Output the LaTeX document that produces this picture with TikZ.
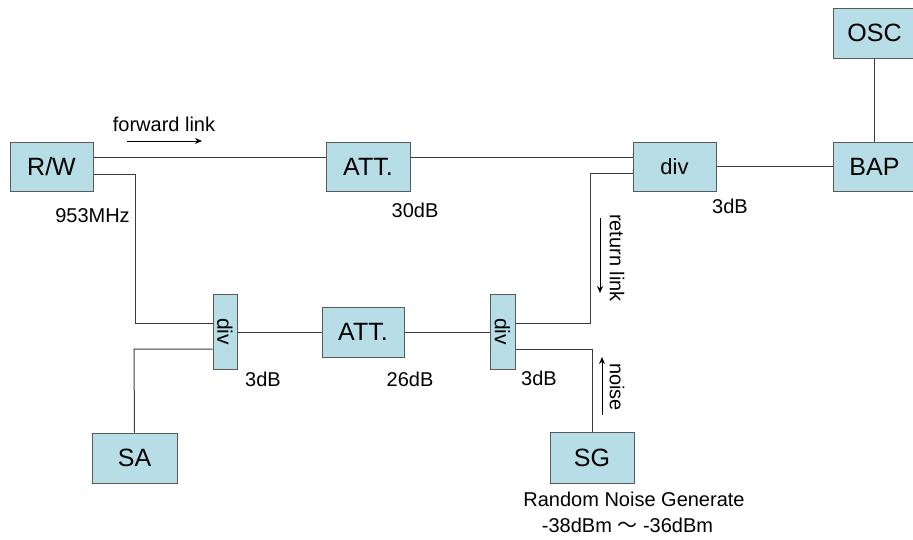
\documentclass[tikz,border=0pt]{standalone}
\usepackage{fontspec}
\setmainfont{Liberation Sans}
\newfontfamily\cjk{Noto Sans CJK JP}
\usetikzlibrary{arrows.meta}
\definecolor{boxfill}{RGB}{183,221,230}
\definecolor{boxdraw}{RGB}{90,90,90}
\definecolor{wire}{RGB}{60,60,60}
\tikzset{
  blk/.style={draw=boxdraw, fill=boxfill, line width=1pt, inner sep=0pt, font=\fontsize{25}{28}\selectfont},
  vdiv/.style={blk, minimum width=24pt, minimum height=75pt, font=\fontsize{21}{24}\selectfont},
  lbl/.style={font=\fontsize{20}{23}\selectfont, inner sep=0pt},
  wire/.style={draw=wire, line width=1pt},
  flow/.style={draw=black, line width=1pt, -{Stealth[length=7pt,width=6pt]}}
}
\begin{document}
\begin{tikzpicture}[x=1pt,y=-1pt]
\useasboundingbox (0,0) rectangle (913,539);
% top row
\node[blk, minimum width=83pt, minimum height=49pt] (rw) at (51.5,166.5) {R/W};
\node[blk, minimum width=84pt, minimum height=49pt] (att1) at (368,166.5) {ATT.};
\node[blk, minimum width=83pt, minimum height=49pt, font=\fontsize{22}{25}\selectfont] (div1) at (674.5,166.5) {div};
\node[blk, minimum width=83pt, minimum height=49pt] (bap) at (874.5,166.5) {BAP};
\node[blk, minimum width=83pt, minimum height=50pt] (osc) at (874.5,33) {OSC};
% bottom row
\node[vdiv] (div2) at (225,331.5) {\rotatebox{-90}{div}};
\node[blk, minimum width=82pt, minimum height=50pt] (att2) at (363,332) {ATT.};
\node[vdiv, minimum width=25pt] (div3) at (502.5,331.5) {\rotatebox{-90}{div}};
\node[blk, minimum width=85pt, minimum height=50pt] (sa) at (134.5,458) {SA};
\node[blk, minimum width=84pt, minimum height=51pt] (sg) at (592,457.5) {SG};
% helper coordinates
\coordinate (c1) at (135,174);
\coordinate (c2) at (135,323);
\coordinate (c3) at (134,349);
\coordinate (c4) at (590,323);
\coordinate (c5) at (590,173);
\coordinate (c6) at (592,349);
% connectors
\draw[wire] ([yshift=9pt]rw.east) -- ([yshift=9pt]att1.west);
\draw[wire] ([yshift=9pt]att1.east) -- ([yshift=9pt]div1.west);
\draw[wire] (div1.east) -- (bap.west);
\draw[wire] (osc.south) -- (bap.north);
\draw[wire] ([yshift=-7.5pt]rw.east) -- (c1) -- (c2) -- (c2 -| div2.west);
\draw[wire] (c3 -| div2.west) -- (c3) -- (sa.north);
\draw[wire] (div2.east |- att2.west) -- (att2.west);
\draw[wire] (att2.east) -- (div3.west |- att2.east);
\draw[wire] (c4 -| div3.east) -- (c4) -- (c5) -- (c5 -| div1.west);
\draw[wire] (c6 -| div3.east) -- (c6) -- (sg.north);
% flow arrows
\coordinate (fa) at (127,141); \coordinate (fb) at (202,141);
\draw[flow] (fa) -- (fb);
\coordinate (ra) at (600,218); \coordinate (rb) at (600,293);
\draw[flow] (ra) -- (rb);
\coordinate (na) at (602,415); \coordinate (nb) at (602,357);
\draw[flow] (na) -- (nb);
% labels
\node[lbl] (tfl) at (164,124) {forward link};
\node[lbl] (tmhz) at (92.5,216) {953MHz};
\node[lbl] (t30) at (415,210) {30dB};
\node[lbl] (t3a) at (730,206) {3dB};
\node[lbl, rotate=-90] (tret) at (617,258) {return link};
\node[lbl] (t3b) at (263,379) {3dB};
\node[lbl] (t26) at (410,379) {26dB};
\node[lbl] (t3c) at (539,378) {3dB};
\node[lbl, rotate=-90] (tnoise) at (617,387) {noise};
\node[lbl] (trng) at (634,499) {Random Noise Generate};
\node[lbl] (trange) at (627.5,525) {-38dBm {\cjk ～} -36dBm};
\end{tikzpicture}
\end{document}
